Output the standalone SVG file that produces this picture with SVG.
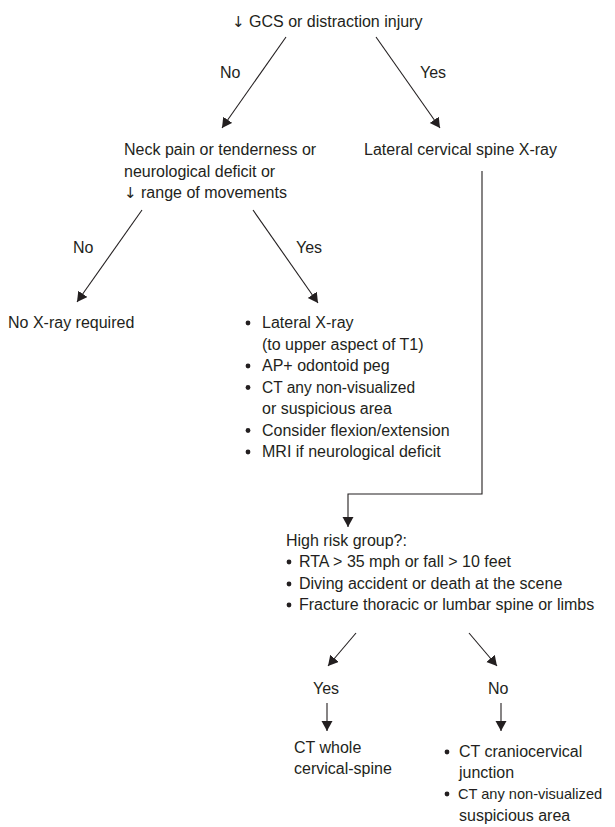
<svg xmlns="http://www.w3.org/2000/svg" width="615" height="827" viewBox="0 0 615 827">
<style>
text{font-family:"Liberation Sans",Arial,sans-serif;font-size:16px;fill:#231f20}
.ar{font-family:"DejaVu Sans",sans-serif;font-size:15px}
.c{stroke:#231f20;stroke-width:1.1;fill:none}
.b{fill:#231f20}
</style>
<defs>
<marker id="ah" markerUnits="userSpaceOnUse" markerWidth="12" markerHeight="12" refX="10" refY="5.5" orient="auto">
<path d="M0,0 L10,5.5 L0,11 z" fill="#231f20"/>
</marker>
</defs>
<rect width="615" height="827" fill="#fff"/>
<g id="connectors">
<line class="c" x1="286" y1="37" x2="222" y2="128" marker-end="url(#ah)"/>
<line class="c" x1="376" y1="37" x2="440" y2="128" marker-end="url(#ah)"/>
<line class="c" x1="142" y1="210" x2="77" y2="302" marker-end="url(#ah)"/>
<line class="c" x1="253" y1="210" x2="318" y2="303" marker-end="url(#ah)"/>
<polyline class="c" points="482,171 482,494 348,494 348,527" marker-end="url(#ah)"/>
<line class="c" x1="356" y1="633" x2="328" y2="666" marker-end="url(#ah)"/>
<line class="c" x1="469" y1="633" x2="497" y2="666" marker-end="url(#ah)"/>
<line class="c" x1="327" y1="703" x2="327" y2="731" marker-end="url(#ah)"/>
<line class="c" x1="501" y1="703" x2="501" y2="731" marker-end="url(#ah)"/>
<text x="220" y="78">No</text>
<text x="420" y="78">Yes</text>
<text x="73" y="253">No</text>
<text x="296" y="253">Yes</text>
<text x="313" y="694">Yes</text>
<text x="488" y="694">No</text>
</g>
<g id="start"><text x="232" y="27"><tspan class="ar">↓</tspan> GCS or distraction injury</text></g>
<g id="neck">
<text x="124" y="155">Neck pain or tenderness or</text>
<text x="124" y="177">neurological deficit or</text>
<text x="124" y="198"><tspan class="ar">↓</tspan> range of movements</text>
</g>
<g id="lateral"><text x="364" y="155">Lateral cervical spine X-ray</text></g>
<g id="noxray"><text x="8" y="328">No X-ray required</text></g>
<g id="imaging">
<circle class="b" cx="248" cy="323" r="2.4"/><text x="262" y="328">Lateral X-ray</text>
<text x="262" y="349.5">(to upper aspect of T1)</text>
<circle class="b" cx="248" cy="366" r="2.4"/><text x="262" y="371">AP+ odontoid peg</text>
<circle class="b" cx="248" cy="387.5" r="2.4"/><text x="262" y="392.5" textLength="153" lengthAdjust="spacingAndGlyphs">CT any non-visualized</text>
<text x="262" y="414">or suspicious area</text>
<circle class="b" cx="248" cy="430.5" r="2.4"/><text x="262" y="435.5">Consider flexion/extension</text>
<circle class="b" cx="248" cy="452" r="2.4"/><text x="262" y="457">MRI if neurological deficit</text>
</g>
<g id="highrisk">
<text x="286" y="546">High risk group?:</text>
<circle class="b" cx="289" cy="562" r="2.4"/><text x="299" y="567">RTA &gt; 35 mph or fall &gt; 10 feet</text>
<circle class="b" cx="289" cy="584" r="2.4"/><text x="299" y="589">Diving accident or death at the scene</text>
<circle class="b" cx="289" cy="605" r="2.4"/><text x="299" y="610">Fracture thoracic or lumbar spine or limbs</text>
</g>
<g id="ctwhole">
<text x="294" y="753">CT whole</text>
<text x="294" y="774">cervical-spine</text>
</g>
<g id="ctcranio">
<circle class="b" cx="447" cy="752" r="2.4"/><text x="459" y="757">CT craniocervical</text>
<text x="459" y="778">junction</text>
<circle class="b" cx="447" cy="794" r="2.4"/><text x="458" y="799" style="font-size:14.6px">CT any non-visualized</text>
<text x="459" y="821">suspicious area</text>
</g>
</svg>
